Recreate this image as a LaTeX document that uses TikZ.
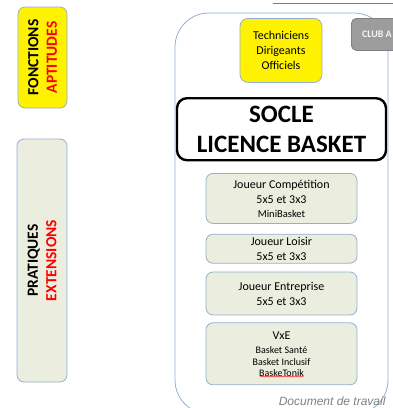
\documentclass[tikz,border=0pt]{standalone}
\usepackage{fontspec}
\setmainfont{Carlito}
\newfontfamily\docfont{Liberation Sans}
\usetikzlibrary{positioning,decorations.pathmorphing}
\definecolor{boxgreen}{HTML}{EBEEDE}
\definecolor{boxedge}{HTML}{94AFD2}
\definecolor{clubgray}{HTML}{9C9C9C}
\definecolor{redtxt}{HTML}{FF0000}
\tikzset{
  licbox/.style={draw=boxedge, fill=boxgreen, rounded corners=7pt, line width=0.8pt,
    minimum width=151pt, align=center, inner sep=2pt, font=\fontsize{12}{15}\selectfont},
  sidebox/.style={draw=boxedge, rounded corners=7pt, line width=0.8pt, rotate=90,
    align=center, inner sep=0pt, font=\fontsize{15.5}{18.5}\selectfont\bfseries}
}
\begin{document}
\begin{tikzpicture}[x=1pt,y=-1pt]
\useasboundingbox (0,0) rectangle (393,408);
\clip (0,0) rectangle (393,408);
% cadre du club
\draw[boxedge, line width=0.8pt, rounded corners=34pt] (175,13) rectangle (388,414);
\draw[black!45!purple!60, line width=0.7pt] (273,3) -- (393,3);
\node[draw=gray, fill=clubgray, rounded corners=5pt, line width=0.8pt, minimum width=52pt,
  minimum height=32pt, anchor=north west, inner sep=0pt] (club) at (351,18) {};
\node[anchor=west, text=white!92!gray, font=\fontsize{10}{12}\selectfont\bfseries] (clubtxt) at (358.5,34) {CLUB A};
% colonne de gauche
\node[sidebox, fill=yellow, minimum width=101pt, minimum height=49pt] (fonctions) at (42.5,57.5)
  {FONCTIONS\\\textcolor{redtxt}{APTITUDES}};
\node[sidebox, fill=boxgreen, minimum width=243pt, minimum height=50pt] (pratiques) at (42,260.5)
  {PRATIQUES\\\textcolor{redtxt}{EXTENSIONS}};
% socle
\node[draw=boxedge, fill=yellow, rounded corners=8pt, line width=0.8pt, minimum width=82pt,
  minimum height=64pt, align=center, anchor=north, font=\fontsize{12}{15}\selectfont]
  (techniciens) at (281,18) {Techniciens\\Dirigeants\\Officiels};
\node[draw=black, fill=white, rounded corners=10pt, line width=2.4pt, minimum width=209pt,
  minimum height=62pt, align=center, anchor=north, font=\fontsize{25}{30}\selectfont\bfseries]
  (socle) at (281.5,97) {SOCLE\\LICENCE BASKET};
% licences joueurs
\node[licbox, minimum height=50pt, anchor=north] (competition) at (281.5,173)
  {Joueur Comp\'etition\\5x5 et 3x3\\[-1pt]{\fontsize{10.5}{12}\selectfont MiniBasket}};
\node[licbox, minimum height=29pt, below=10pt of competition] (loisir)
  {Joueur Loisir\\5x5 et 3x3};
\node[licbox, minimum height=43pt, below=8pt of loisir] (entreprise)
  {Joueur Entreprise\\5x5 et 3x3};
\node[licbox, minimum height=62pt, below=7pt of entreprise] (vxe)
  {VxE\\[-1pt]{\fontsize{10}{11.5}\selectfont Basket Sant\'e}\\[-3pt]{\fontsize{10}{11.5}\selectfont Basket Inclusif}\\[-4pt]{\fontsize{10}{11.5}\selectfont BaskeTonik}};
\coordinate (souligneA) at (260,376.5);
\coordinate (souligneB) at (304,376.5);
\draw[red, line width=0.4pt, decorate, decoration={snake, amplitude=0.6pt, segment length=2.5pt}]
  (souligneA) -- (souligneB);
\node[anchor=east, text=gray, font=\docfont\itshape\fontsize{12}{14}\selectfont] (doc) at (389,401)
  {Document de travail};
\end{tikzpicture}
\end{document}
